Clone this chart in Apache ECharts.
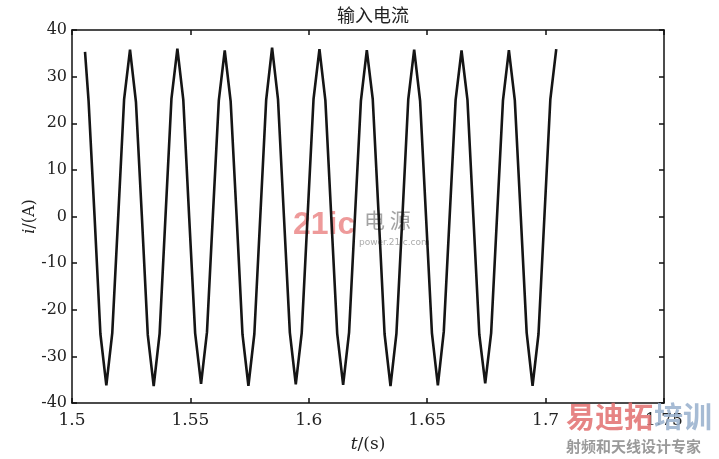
<!DOCTYPE html>
<html>
<head>
<meta charset="utf-8">
<script src="https://cdn.jsdelivr.net/npm/echarts@6/dist/echarts.min.js"></script>
<style>html,body{margin:0;padding:0;background:#fff;}#c{width:719px;height:459px;}</style>
</head>
<body>
<div id="c"></div>
<script>
// Time samples (s)
const timeS = [
1.5055,1.507,1.5095,1.512,1.5145,1.517,1.5195,1.522,
1.5245,1.527,1.5295,1.532,1.5345,1.537,1.5395,1.542,
1.5445,1.547,1.5495,1.552,1.5545,1.557,1.5595,1.562,
1.5645,1.567,1.5695,1.572,1.5745,1.577,1.5795,1.582,
1.5845,1.587,1.5895,1.592,1.5945,1.597,1.5995,1.602,
1.6045,1.607,1.6095,1.612,1.6145,1.617,1.6195,1.622,
1.6245,1.627,1.6295,1.632,1.6345,1.637,1.6395,1.642,
1.6445,1.647,1.6495,1.652,1.6545,1.657,1.6595,1.662,
1.6645,1.667,1.6695,1.672,1.6745,1.677,1.6795,1.682,
1.6845,1.687,1.6895,1.692,1.6945,1.697,1.6995,1.702,
1.7045];
// Input current (A)
const currentA = [
35.3,24.8,0.3,-25.2,-36.2,-25.0,-0.2,25.1,
35.8,24.6,0.1,-25.4,-36.4,-25.1,0.2,25.3,
36.0,25.0,-0.3,-25.0,-35.9,-24.8,0.3,24.9,
35.6,24.7,0.2,-25.3,-36.3,-25.2,-0.1,25.0,
36.2,25.1,0.0,-24.9,-36.0,-25.0,0.2,25.2,
35.9,24.9,-0.2,-25.1,-36.1,-24.9,0.1,24.8,
35.7,25.2,0.3,-25.2,-36.4,-25.1,-0.3,25.1,
35.8,24.8,0.0,-25.0,-36.2,-24.7,0.2,25.0,
35.6,25.0,-0.1,-25.3,-35.8,-25.0,0.1,24.9,
35.7,24.9,0.2,-24.9,-36.3,-25.2,0.0,25.1,
35.9];
const xTicks = ['1.5','1.55','1.6','1.65','1.7','1.75'];
const yTicks = ['-40','-30','-20','-10','0','10','20','30','40'];
const titleText = '输入电流';

const xMin = 1.5, xMax = 1.75, xStep = 0.05;
const yMin = -40, yMax = 40, yStep = 10;

const chart = echarts.init(document.getElementById('c'), null, {renderer:'canvas'});
const axisLineStyle = {color:'#111', width:1.5};
const tick = {inside:true, length:5, lineStyle:{color:'#111', width:1.5}};
const fmtX = v => { const k = Math.round((v - xMin)/xStep); return xTicks[k] !== undefined ? xTicks[k] : ''; };
const fmtY = v => { const k = Math.round((v - yMin)/yStep); return yTicks[k] !== undefined ? yTicks[k] : ''; };

chart.setOption({
  animation:false,
  backgroundColor:'#fff',
  title:{text:titleText, left:368, textAlign:'center', top:1,
    textStyle:{fontFamily:'Noto Sans CJK SC', fontSize:18, fontWeight:'normal', color:'#222'}},
  grid:{left:72, right:55, top:30, bottom:56},
  xAxis:[
    {type:'value', min:xMin, max:xMax, interval:xStep, position:'bottom',
     axisLine:{show:true, onZero:false, lineStyle:axisLineStyle}, axisTick:tick, splitLine:{show:false},
     axisLabel:{formatter:fmtX, fontFamily:'DejaVu Serif', fontSize:17, color:'#222', margin:9},
     name:'{i|t}{n|/(s)}', nameLocation:'middle', nameGap:33,
     nameTextStyle:{rich:{i:{fontFamily:'DejaVu Serif', fontStyle:'italic', fontSize:17, color:'#222'},
                          n:{fontFamily:'DejaVu Serif', fontSize:17, color:'#222'}}}},
    {type:'value', min:xMin, max:xMax, interval:xStep, position:'top',
     axisLine:{show:true, onZero:false, lineStyle:axisLineStyle}, axisTick:tick, splitLine:{show:false},
     axisLabel:{show:false}}
  ],
  yAxis:[
    {type:'value', min:yMin, max:yMax, interval:yStep, position:'left',
     axisLine:{show:true, onZero:false, lineStyle:axisLineStyle}, axisTick:tick, splitLine:{show:false},
     axisLabel:{formatter:fmtY, fontFamily:'DejaVu Serif', fontSize:16, color:'#222', margin:5},
     name:'{i|i}{n|/(A)}', nameLocation:'middle', nameGap:34, nameRotate:90, nameMoveOverlap:false,
     nameTextStyle:{rich:{i:{fontFamily:'DejaVu Serif', fontStyle:'italic', fontSize:16, color:'#222'},
                          n:{fontFamily:'DejaVu Serif', fontSize:16, color:'#222'}}}},
    {type:'value', min:yMin, max:yMax, interval:yStep, position:'right',
     axisLine:{show:true, onZero:false, lineStyle:axisLineStyle}, axisTick:tick, splitLine:{show:false},
     axisLabel:{show:false}}
  ],
  series:[{
    type:'line', xAxisIndex:0, yAxisIndex:0, symbol:'none', smooth:false,
    lineStyle:{color:'#151515', width:2.6},
    data: timeS.map((t,k)=>[t, currentA[k]])
  }],
  graphic:[
    {type:'text', left:293, top:209, z:-1, style:{text:'21ic', font:'bold 32px "Liberation Sans Narrow", "Liberation Sans"', fill:'rgba(232,120,120,0.75)'}},
    {type:'text', left:364, top:210, z:-1, style:{text:'电 源', font:'21px "Noto Sans CJK SC"', fill:'rgba(140,140,140,0.8)'}},
    {type:'text', left:359, top:238, z:-1, style:{text:'power.21ic.com', font:'9px "DejaVu Sans"', fill:'rgba(150,150,150,0.8)'}},
    {type:'text', left:566, top:402, z:10, style:{text:'易迪拓', font:'bold 29px "Noto Sans CJK SC"', fill:'rgba(226,110,110,0.85)'}},
    {type:'text', left:654, top:402, z:10, style:{text:'培训', font:'bold 29px "Noto Sans CJK SC"', fill:'rgba(150,175,205,0.85)'}},
    {type:'text', left:566, top:439, z:10, style:{text:'射频和天线设计专家', font:'bold 15px "Noto Sans CJK SC"', fill:'#9a9a9a'}}
  ]
});
</script>
</body>
</html>
